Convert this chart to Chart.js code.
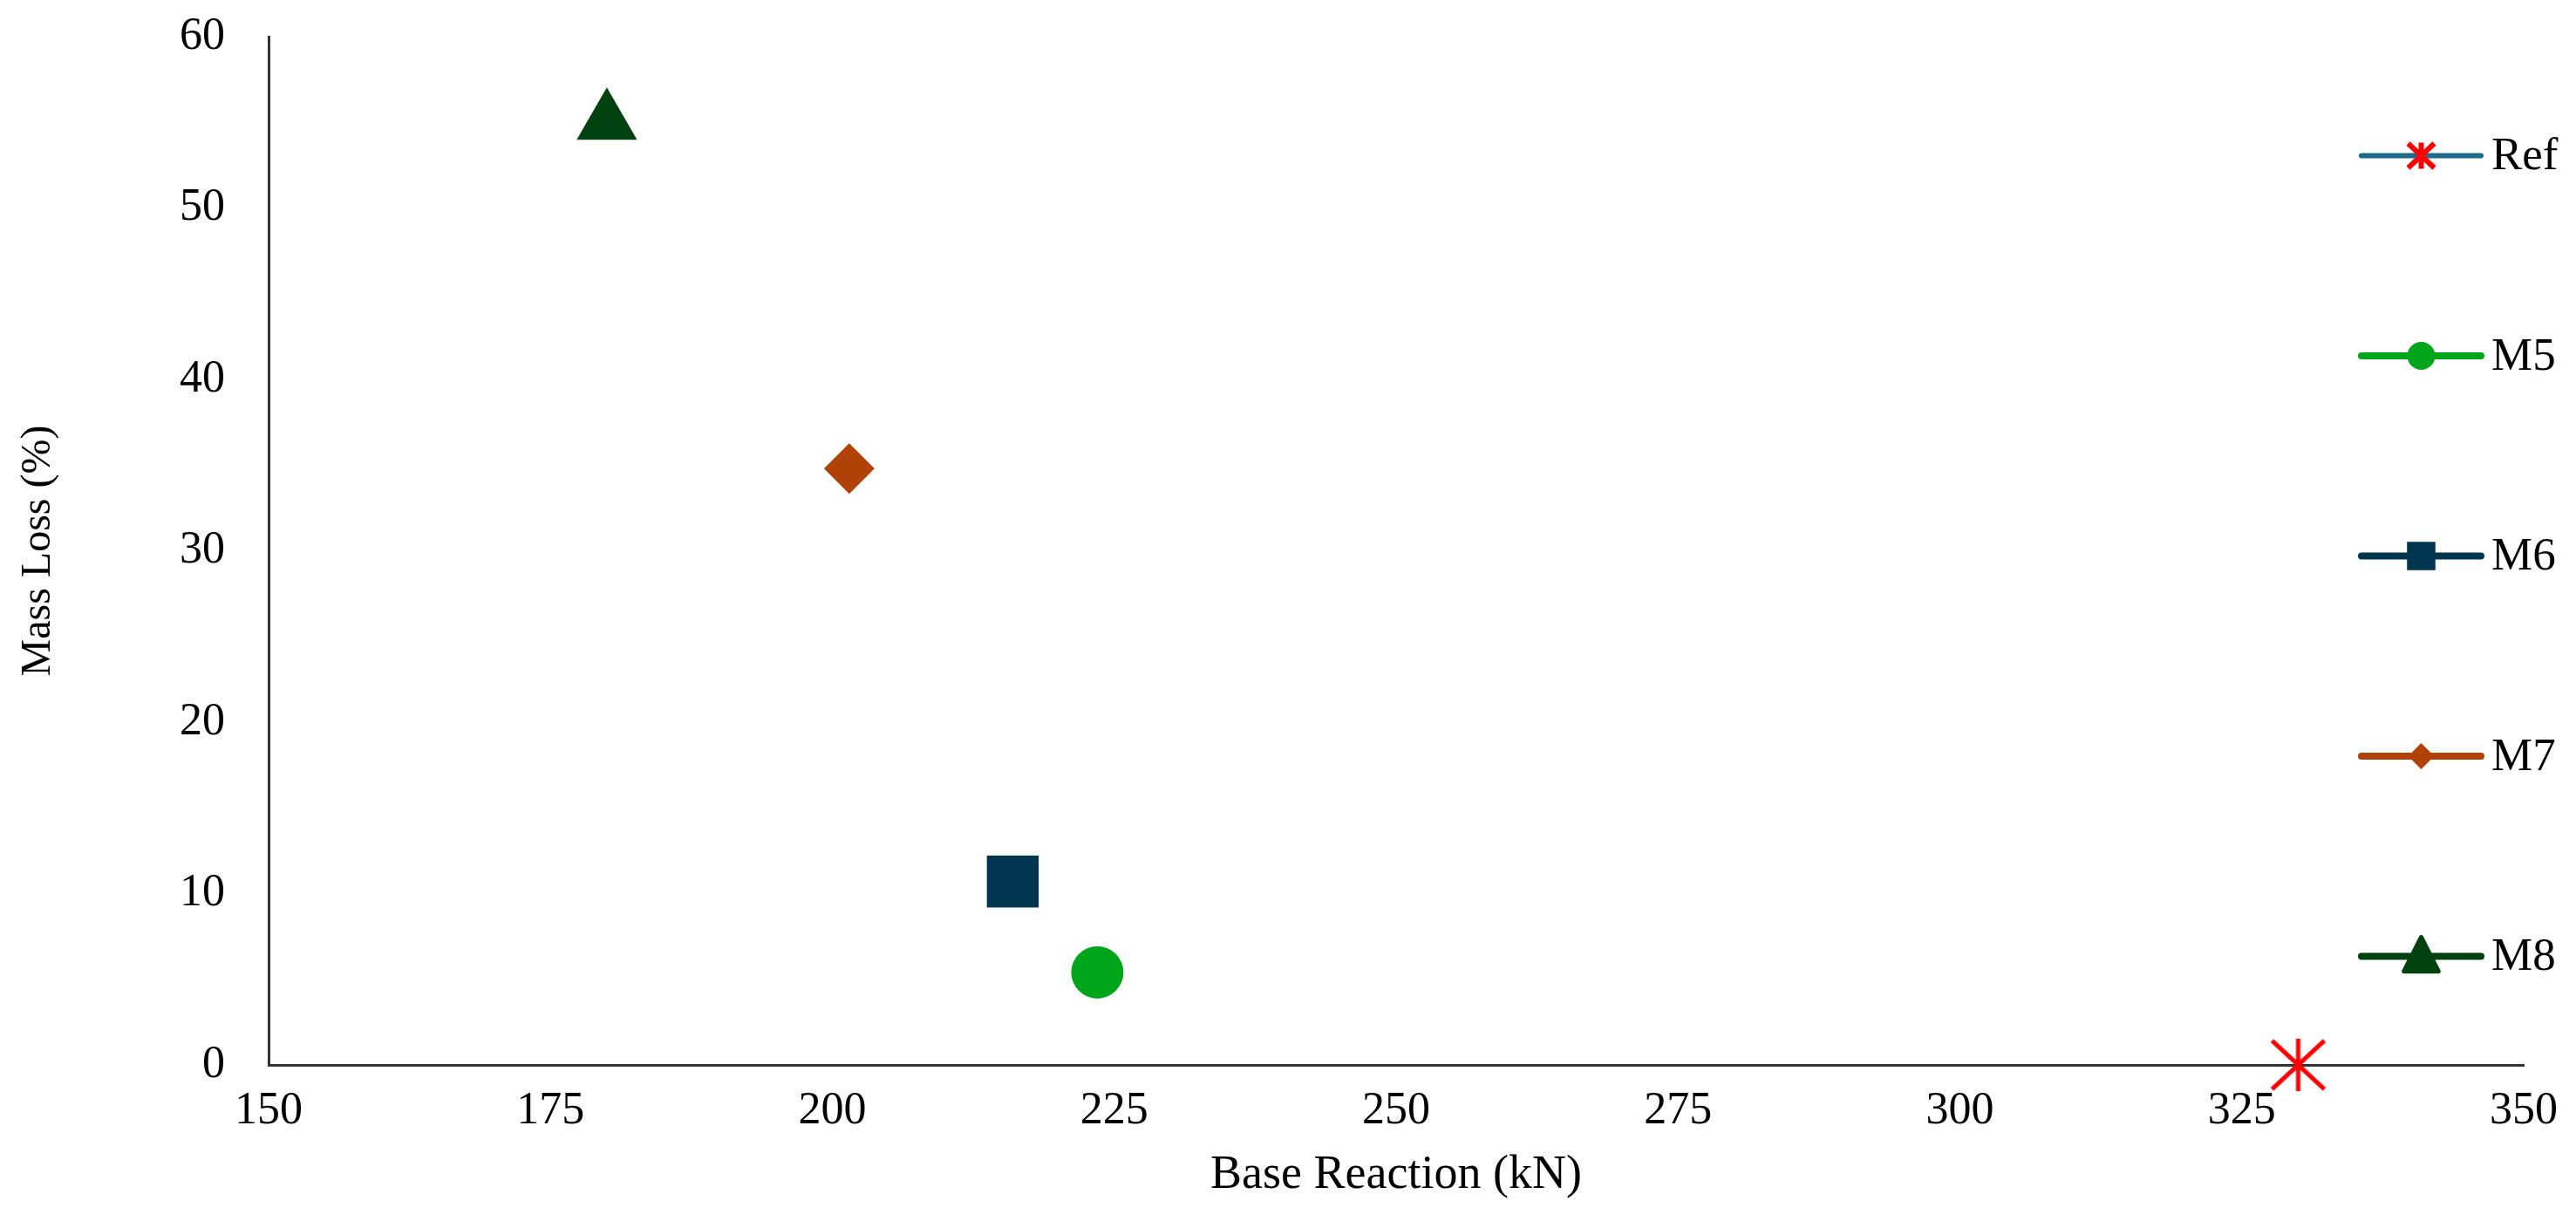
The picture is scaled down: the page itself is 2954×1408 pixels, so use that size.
<!DOCTYPE html>
<html>
<head>
<meta charset="utf-8">
<title>Mass Loss vs Base Reaction</title>
<script src="https://cdn.jsdelivr.net/npm/chart.js@4"></script>
<style>
    html, body { margin: 0; padding: 0; background: #fff; }
    #wrap { width: 2954px; height: 1408px; position: relative; }
</style>
</head>
<body>
<div id="wrap"><canvas id="chart"></canvas></div>
<script>
// data
const seriesNames = ['Ref', 'M5', 'M6', 'M7', 'M8'];
const baseReaction = [330, 223.5, 216, 201.5, 180];   // kN
const massLoss = [0, 5.4, 10.7, 34.8, 55];             // %
const xTickValues = [150, 175, 200, 225, 250, 275, 300, 325, 350];
const yTickValues = [0, 10, 20, 30, 40, 50, 60];

const markerColors = ['#ff0000', '#00a51c', '#00354f', '#b04206', '#00420f'];
const legendLineColors = ['#1d6a8c', '#00a51c', '#00354f', '#b04206', '#00420f'];
const markerStyles = ['asterisk', 'circle', 'rect', 'rectRot', 'triangle'];
const markerRadius = [30, 30, 42, 29, 40];

const serif = "'Liberation Serif', 'Times New Roman', serif";
Chart.defaults.font.family = serif;
Chart.defaults.color = '#000';

// simple marker painter, used for the asterisk point image and for the legend
function drawMarker(ctx, style, x, y, r, color, lw) {
    ctx.save();
    ctx.fillStyle = color;
    ctx.strokeStyle = color;
    ctx.beginPath();
    if (style === 'asterisk') {
        ctx.lineWidth = lw || 5;
        ctx.moveTo(x, y - r); ctx.lineTo(x, y + r);
        ctx.moveTo(x - r, y - r * 0.93); ctx.lineTo(x + r, y + r * 0.93);
        ctx.moveTo(x + r, y - r * 0.93); ctx.lineTo(x - r, y + r * 0.93);
        ctx.stroke();
    } else if (style === 'circle') {
        ctx.arc(x, y, r, 0, Math.PI * 2);
        ctx.fill();
    } else if (style === 'rect') {
        const s = r * Math.SQRT1_2;
        ctx.rect(x - s, y - s, 2 * s, 2 * s);
        ctx.fill();
    } else if (style === 'rectRot') {
        ctx.moveTo(x - r, y); ctx.lineTo(x, y - r);
        ctx.lineTo(x + r, y); ctx.lineTo(x, y + r);
        ctx.closePath();
        ctx.fill();
    } else if (style === 'triangle') {
        ctx.lineJoin = 'round';
        ctx.lineWidth = 5;
        ctx.moveTo(x, y - r);
        ctx.lineTo(x + r * 0.9, y + r * 0.78);
        ctx.lineTo(x - r * 0.9, y + r * 0.78);
        ctx.closePath();
        ctx.fill();
        ctx.stroke();
    }
    ctx.restore();
}

// the red asterisk used for the Ref point
const asteriskImg = document.createElement('canvas');
asteriskImg.width = 70;
asteriskImg.height = 70;
drawMarker(asteriskImg.getContext('2d'), 'asterisk', 35, 35, 30, markerColors[0], 5);

const datasets = seriesNames.map(function (name, i) {
    return {
        label: name,
        data: [{ x: baseReaction[i], y: massLoss[i] }],
        pointStyle: i === 0 ? asteriskImg : markerStyles[i],
        pointRadius: markerRadius[i],
        pointBackgroundColor: markerColors[i],
        pointBorderColor: markerColors[i],
        pointBorderWidth: 0,
        showLine: false,
        clip: false
    };
});

// legend drawn over the right edge of the plot, line + marker like the original
const sideLegend = {
    id: 'sideLegend',
    afterDraw(chart) {
        const ctx = chart.ctx;
        const area = chart.chartArea;
        const midY = (area.top + area.bottom) / 2 + 6;
        const gap = 229.5;
        const x0 = area.right - 186, x1 = area.right - 49;
        const mx = (x0 + x1) / 2;
        const legendR = [15, 16, 23, 15, 22];
        seriesNames.forEach(function (name, i) {
            const y = midY + (i - 2) * gap;
            ctx.save();
            ctx.strokeStyle = legendLineColors[i];
            ctx.lineWidth = i === 0 ? 6 : 8;
            ctx.lineCap = 'round';
            ctx.beginPath();
            ctx.moveTo(x0, y);
            ctx.lineTo(x1, y);
            ctx.stroke();
            ctx.restore();
            drawMarker(ctx, markerStyles[i], mx, y, legendR[i], markerColors[i], 6);
            ctx.save();
            ctx.fillStyle = '#000';
            ctx.font = '53px ' + serif;
            ctx.textAlign = 'left';
            ctx.textBaseline = 'middle';
            ctx.fillText(name, x1 + 12, y + 2);
            ctx.restore();
        });
    }
};

new Chart(document.getElementById('chart'), {
    type: 'scatter',
    data: { datasets: datasets },
    options: {
        responsive: true,
        maintainAspectRatio: false,
        animation: false,
        layout: { padding: { top: 40, right: 60, left: 0, bottom: 0 } },
        plugins: {
            legend: { display: false },
            tooltip: { enabled: false }
        },
        scales: {
            x: {
                type: 'linear',
                min: xTickValues[0],
                max: xTickValues[xTickValues.length - 1],
                afterBuildTicks: function (scale) {
                    scale.ticks = xTickValues.map(v => ({ value: v }));
                },
                afterFit: function (scale) {
                    scale.height = 187;
                    scale.paddingLeft = 0;
                    scale.paddingRight = 0;
                },
                ticks: { color: '#000', font: { size: 52 }, padding: 14, maxRotation: 0 },
                grid: { display: false },
                border: { display: true, color: '#333', width: 3 },
                title: {
                    display: true,
                    text: 'Base Reaction (kN)',
                    color: '#000',
                    font: { size: 54 },
                    padding: { top: 0, bottom: 28 }
                }
            },
            y: {
                type: 'linear',
                min: yTickValues[0],
                max: yTickValues[yTickValues.length - 1],
                afterBuildTicks: function (scale) {
                    scale.ticks = yTickValues.map(v => ({ value: v }));
                },
                afterFit: function (scale) {
                    scale.width = 308;
                    scale.paddingTop = 0;
                    scale.paddingBottom = 0;
                },
                ticks: { color: '#000', font: { size: 52 }, padding: 42 },
                grid: { display: false },
                border: { display: true, color: '#333', width: 3 },
                title: {
                    display: true,
                    text: 'Mass Loss (%)',
                    color: '#000',
                    font: { size: 48 },
                    padding: { top: 16, bottom: 0 }
                }
            }
        }
    },
    plugins: [sideLegend]
});
</script>
</body>
</html>
